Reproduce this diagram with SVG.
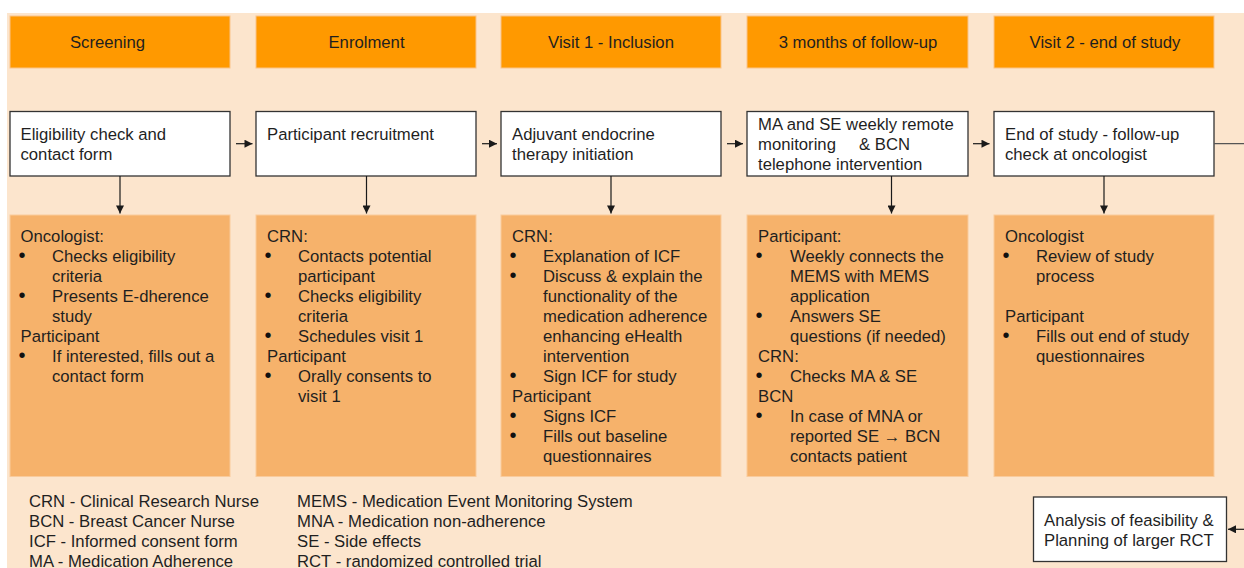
<svg xmlns="http://www.w3.org/2000/svg" width="1244" height="568" viewBox="0 0 1244 568">
  <style>
    text { font-family: "Liberation Sans", Arial, sans-serif; font-size: 16.7px; fill: #1f1f1f; }
    .hdr { fill: #ff9900; stroke: #f9c48a; stroke-width: 1; }
    .hdr-t { text-anchor: middle; }
    .step { fill: #ffffff; stroke: #333333; stroke-width: 1.3; }
    .task { fill: #f6b26b; stroke: #f9cb9c; stroke-width: 1; }
    .bul { font-size: 20px; text-anchor: middle; fill: #111111; }
    .conn { stroke: #1a1a1a; stroke-width: 1.2; fill: none; }
    .conn-g { stroke: #555555; stroke-width: 1.2; fill: none; }
  </style>
  <defs>
    <marker id="arrow" viewBox="0 0 10 10" refX="10" refY="5" markerUnits="userSpaceOnUse" markerWidth="9" markerHeight="8" orient="auto">
      <path d="M0,0 L10,5 L0,10 z" fill="#1a1a1a"/>
    </marker>
  </defs>

  <!-- page background -->
  <rect x="7" y="13" width="1237" height="555" fill="#fce5cd"/>

  <!-- phase headers -->
  <g id="phases">
    <rect class="hdr" x="10" y="16" width="220" height="52"/>
    <text class="hdr-t" x="107.5" y="48">Screening</text>
    <rect class="hdr" x="256" y="16" width="220" height="52"/>
    <text class="hdr-t" x="366.5" y="48">Enrolment</text>
    <rect class="hdr" x="501" y="16" width="220" height="52"/>
    <text class="hdr-t" x="611" y="48">Visit 1 - Inclusion</text>
    <rect class="hdr" x="747" y="16" width="221" height="52"/>
    <text class="hdr-t" x="858" y="48">3 months of follow-up</text>
    <rect class="hdr" x="994" y="16" width="220" height="52"/>
    <text class="hdr-t" x="1105" y="48">Visit 2 - end of study</text>
  </g>

  <!-- step boxes -->
  <g id="step-screening">
    <rect class="step" x="10" y="111.5" width="220" height="64.5"/>
    <text x="20.5" y="140">Eligibility check and</text>
    <text x="20.5" y="160">contact form</text>
  </g>
  <g id="step-enrolment">
    <rect class="step" x="256" y="111.5" width="220" height="64.5"/>
    <text x="267" y="140">Participant recruitment</text>
  </g>
  <g id="step-visit1">
    <rect class="step" x="501" y="111.5" width="220" height="64.5"/>
    <text x="512" y="140">Adjuvant endocrine</text>
    <text x="512" y="160">therapy initiation</text>
  </g>
  <g id="step-followup">
    <rect class="step" x="747" y="111.5" width="221" height="64.5"/>
    <text x="758" y="129.5">MA and SE weekly remote</text>
    <text x="758" y="150"><tspan>monitoring</tspan><tspan x="859">&amp; BCN</tspan></text>
    <text x="758" y="170">telephone intervention</text>
  </g>
  <g id="step-visit2">
    <rect class="step" x="994" y="111.5" width="220" height="64.5"/>
    <text x="1005" y="140">End of study - follow-up</text>
    <text x="1005" y="160">check at oncologist</text>
  </g>
  <g id="step-analysis">
    <rect class="step" x="1033.5" y="497" width="193" height="64.5"/>
    <text x="1044" y="526">Analysis of feasibility &amp;</text>
    <text x="1044" y="546">Planning of larger RCT</text>
  </g>

  <!-- task boxes -->
  <g id="tasks-screening">
    <rect class="task" x="10" y="215" width="220" height="261.5"/>
    <text x="20.5" y="241.7">Oncologist:</text>
    <text class="bul" x="22" y="261.7">•</text>
    <text x="52" y="261.7">Checks eligibility</text>
    <text x="52" y="281.7">criteria</text>
    <text class="bul" x="22" y="301.7">•</text>
    <text x="52" y="301.7">Presents E-dherence</text>
    <text x="52" y="321.7">study</text>
    <text x="20.5" y="341.7">Participant</text>
    <text class="bul" x="22" y="361.7">•</text>
    <text x="52" y="361.7">If interested, fills out a</text>
    <text x="52" y="381.7">contact form</text>
  </g>
  <g id="tasks-enrolment">
    <rect class="task" x="256" y="215" width="220" height="261.5"/>
    <text x="267" y="241.7">CRN:</text>
    <text class="bul" x="268" y="261.7">•</text>
    <text x="298" y="261.7">Contacts potential</text>
    <text x="298" y="281.7">participant</text>
    <text class="bul" x="268" y="301.7">•</text>
    <text x="298" y="301.7">Checks eligibility</text>
    <text x="298" y="321.7">criteria</text>
    <text class="bul" x="268" y="341.7">•</text>
    <text x="298" y="341.7">Schedules visit 1</text>
    <text x="267" y="361.7">Participant</text>
    <text class="bul" x="268" y="381.7">•</text>
    <text x="298" y="381.7">Orally consents to</text>
    <text x="298" y="401.7">visit 1</text>
  </g>
  <g id="tasks-visit1">
    <rect class="task" x="501" y="215" width="220" height="261.5"/>
    <text x="512" y="241.7">CRN:</text>
    <text class="bul" x="513" y="261.7">•</text>
    <text x="543" y="261.7">Explanation of ICF</text>
    <text class="bul" x="513" y="281.7">•</text>
    <text x="543" y="281.7">Discuss &amp; explain the</text>
    <text x="543" y="301.7">functionality of the</text>
    <text x="543" y="321.7">medication adherence</text>
    <text x="543" y="341.7">enhancing eHealth</text>
    <text x="543" y="361.7">intervention</text>
    <text class="bul" x="513" y="381.7">•</text>
    <text x="543" y="381.7">Sign ICF for study</text>
    <text x="512" y="401.7">Participant</text>
    <text class="bul" x="513" y="421.7">•</text>
    <text x="543" y="421.7">Signs ICF</text>
    <text class="bul" x="513" y="441.7">•</text>
    <text x="543" y="441.7">Fills out baseline</text>
    <text x="543" y="461.7">questionnaires</text>
  </g>
  <g id="tasks-followup">
    <rect class="task" x="747" y="215" width="221" height="261.5"/>
    <text x="758" y="241.7">Participant:</text>
    <text class="bul" x="759" y="261.7">•</text>
    <text x="790" y="261.7">Weekly connects the</text>
    <text x="790" y="281.7">MEMS with MEMS</text>
    <text x="790" y="301.7">application</text>
    <text class="bul" x="759" y="321.7">•</text>
    <text x="790" y="321.7">Answers SE</text>
    <text x="790" y="341.7">questions (if needed)</text>
    <text x="758" y="361.7">CRN:</text>
    <text class="bul" x="759" y="381.7">•</text>
    <text x="790" y="381.7">Checks MA &amp; SE</text>
    <text x="758" y="401.7">BCN</text>
    <text class="bul" x="759" y="421.7">•</text>
    <text x="790" y="421.7">In case of MNA or</text>
    <text x="790" y="441.7">reported SE → BCN</text>
    <text x="790" y="461.7">contacts patient</text>
  </g>
  <g id="tasks-visit2">
    <rect class="task" x="994" y="215" width="220" height="261.5"/>
    <text x="1005" y="241.7">Oncologist</text>
    <text class="bul" x="1006" y="261.7">•</text>
    <text x="1036" y="261.7">Review of study</text>
    <text x="1036" y="281.7">process</text>
    <text x="1005" y="321.7">Participant</text>
    <text class="bul" x="1006" y="341.7">•</text>
    <text x="1036" y="341.7">Fills out end of study</text>
    <text x="1036" y="361.7">questionnaires</text>
  </g>

  <!-- abbreviations -->
  <g id="legend">
    <text x="29" y="506.7">CRN - Clinical Research Nurse</text>
    <text x="29" y="526.7">BCN - Breast Cancer Nurse</text>
    <text x="29" y="546.7">ICF - Informed consent form</text>
    <text x="29" y="566.7">MA - Medication Adherence</text>
    <text x="297" y="506.7">MEMS - Medication Event Monitoring System</text>
    <text x="297" y="526.7">MNA - Medication non-adherence</text>
    <text x="297" y="546.7">SE - Side effects</text>
    <text x="297" y="566.7">RCT - randomized controlled trial</text>
  </g>

  <!-- connectors -->
  <g id="connectors">
    <line class="conn" x1="236" y1="143.7" x2="252.5" y2="143.7" marker-end="url(#arrow)"/>
    <line class="conn" x1="482" y1="143.7" x2="497" y2="143.7" marker-end="url(#arrow)"/>
    <line class="conn" x1="727" y1="143.7" x2="743" y2="143.7" marker-end="url(#arrow)"/>
    <line class="conn" x1="973" y1="143.7" x2="989.5" y2="143.7" marker-end="url(#arrow)"/>
    <line class="conn" x1="120" y1="176" x2="120" y2="213.5" marker-end="url(#arrow)"/>
    <line class="conn" x1="366.5" y1="176" x2="366.5" y2="213.5" marker-end="url(#arrow)"/>
    <line class="conn" x1="611" y1="176" x2="611" y2="213.5" marker-end="url(#arrow)"/>
    <line class="conn" x1="891.5" y1="176" x2="891.5" y2="213.5" marker-end="url(#arrow)"/>
    <line class="conn" x1="1104" y1="176" x2="1104" y2="213.5" marker-end="url(#arrow)"/>
    <path class="conn-g" d="M1214,143.7 H1254 V529.3 H1244"/>
    <line class="conn" x1="1254" y1="529.3" x2="1228" y2="529.3" marker-end="url(#arrow)"/>
  </g>
</svg>
